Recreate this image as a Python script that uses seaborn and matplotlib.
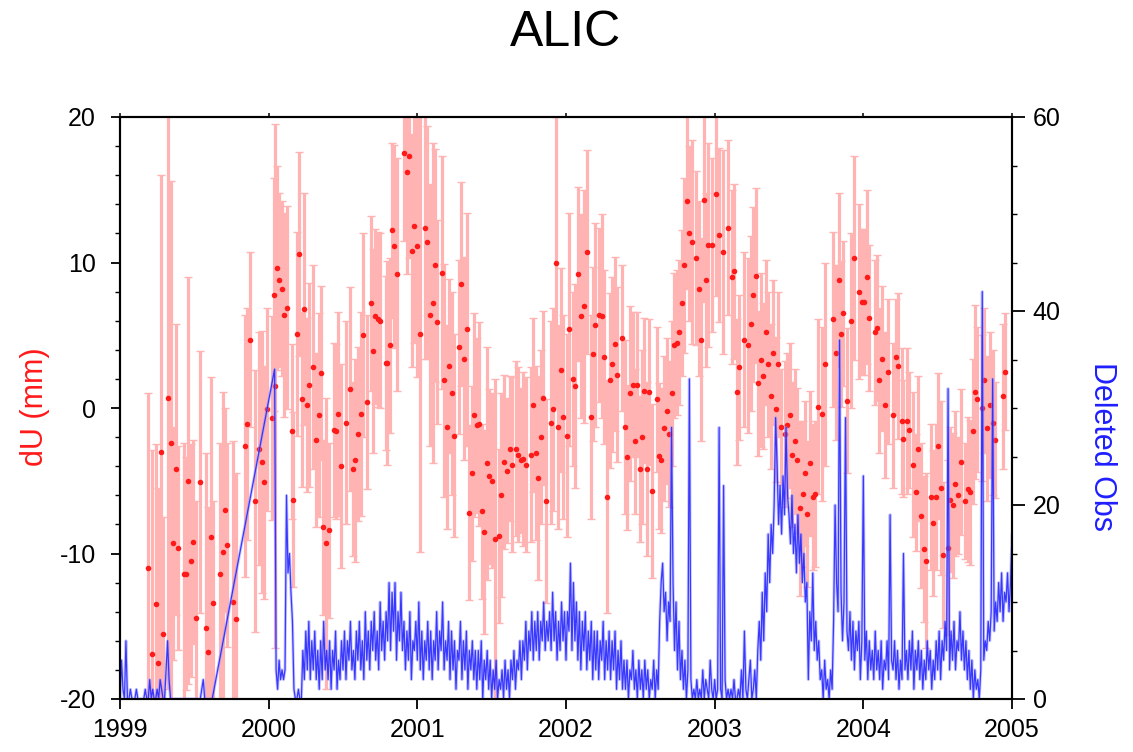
import numpy as np
import pandas as pd
import matplotlib
matplotlib.use("Agg")
import matplotlib.pyplot as plt
import seaborn as sns
from matplotlib.ticker import MultipleLocator

# ---------------- data ----------------
title = "ALIC"
left_label = "dU (mm)"
right_label = "Deleted Obs"
year_ticks = [1999, 2000, 2001, 2002, 2003, 2004, 2005]
year_labels = ["1999", "2000", "2001", "2002", "2003", "2004", "2005"]

# red series: epoch (decimal year), dU (mm), 1-sigma error (mm)
red_t = [
    1999.191, 1999.213, 1999.242, 1999.258, 1999.275, 1999.292, 1999.325, 1999.341, 1999.359, 1999.377,
    1999.393, 1999.431, 1999.444, 1999.460, 1999.476, 1999.494, 1999.509, 1999.538, 1999.576, 1999.590,
    1999.610, 1999.628, 1999.673, 1999.691, 1999.707, 1999.722, 1999.763, 1999.778, 1999.841, 1999.857,
    1999.874, 1999.908, 1999.935, 1999.958, 1999.971, 1999.987,
    2000.020, 2000.036, 2000.044, 2000.054, 2000.072, 2000.088, 2000.103, 2000.121, 2000.155, 2000.166,
    2000.188, 2000.204, 2000.222, 2000.237, 2000.255, 2000.270, 2000.300, 2000.316, 2000.338, 2000.352,
    2000.367, 2000.385, 2000.405, 2000.439, 2000.452, 2000.468, 2000.484, 2000.520, 2000.550, 2000.565,
    2000.583, 2000.603, 2000.620, 2000.636, 2000.663, 2000.685, 2000.700, 2000.716, 2000.735, 2000.750,
    2000.786, 2000.797, 2000.813, 2000.830, 2000.846, 2000.862, 2000.913, 2000.929, 2000.947, 2000.962,
    2000.980, 2000.995,
    2001.018, 2001.052, 2001.068, 2001.086, 2001.103, 2001.119, 2001.135, 2001.168, 2001.182, 2001.202,
    2001.216, 2001.231, 2001.249, 2001.283, 2001.294, 2001.314, 2001.332, 2001.350, 2001.366, 2001.382,
    2001.399, 2001.417, 2001.433, 2001.449, 2001.467, 2001.485, 2001.500, 2001.520, 2001.550, 2001.563,
    2001.583, 2001.601, 2001.620, 2001.635, 2001.664, 2001.680, 2001.698, 2001.713, 2001.731, 2001.763,
    2001.780, 2001.800, 2001.815, 2001.830, 2001.848, 2001.866, 2001.897, 2001.915, 2001.933, 2001.949,
    2001.965, 2001.983,
    2002.005, 2002.023, 2002.045, 2002.061, 2002.083, 2002.099, 2002.118, 2002.139, 2002.166, 2002.180,
    2002.198, 2002.220, 2002.245, 2002.258, 2002.278, 2002.296, 2002.312, 2002.330, 2002.346, 2002.377,
    2002.395, 2002.413, 2002.431, 2002.449, 2002.465, 2002.480, 2002.498, 2002.510, 2002.527, 2002.543,
    2002.561, 2002.579, 2002.610, 2002.626, 2002.642, 2002.660, 2002.677, 2002.695, 2002.713, 2002.727,
    2002.745, 2002.763, 2002.778, 2002.794, 2002.812, 2002.828, 2002.845, 2002.875, 2002.893, 2002.908,
    2002.929, 2002.944, 2002.958, 2002.983,
    2003.009, 2003.031, 2003.053, 2003.091, 2003.114, 2003.128, 2003.147, 2003.165, 2003.197, 2003.226,
    2003.242, 2003.260, 2003.275, 2003.293, 2003.309, 2003.322, 2003.345, 2003.360, 2003.376, 2003.390,
    2003.412, 2003.428, 2003.443, 2003.473, 2003.488, 2003.506, 2003.522, 2003.540, 2003.555, 2003.573,
    2003.591, 2003.607, 2003.622, 2003.640, 2003.663, 2003.676, 2003.697, 2003.719, 2003.741, 2003.798,
    2003.815, 2003.838, 2003.852, 2003.865, 2003.887, 2003.914, 2003.936, 2003.972, 2003.988,
    2004.004, 2004.022, 2004.040, 2004.078, 2004.089, 2004.107, 2004.123, 2004.145, 2004.168, 2004.201,
    2004.219, 2004.235, 2004.257, 2004.268, 2004.291, 2004.309, 2004.336, 2004.354, 2004.370, 2004.385,
    2004.408, 2004.421, 2004.452, 2004.466, 2004.488, 2004.504, 2004.520, 2004.538, 2004.571, 2004.582,
    2004.600, 2004.618, 2004.634, 2004.654, 2004.683, 2004.706, 2004.717, 2004.735, 2004.751, 2004.766,
    2004.795, 2004.811, 2004.829, 2004.851, 2004.870, 2004.885, 2004.937, 2004.952,
]
red_du = [
    -11.0, -16.9, -13.5, -17.5, -3.0, -15.5, 0.7, -2.4, -9.3, -4.2,
    -9.6, -11.4, -11.4, -5.0, -10.5, -9.2, -14.4, -5.1, -15.1, -16.8,
    -8.9, -13.4, -11.4, -9.9, -7.0, -9.4, -13.3, -14.5, -2.6, -1.1,
    4.7, -6.4, -2.8, -3.7, -5.1, -0.1,
    -0.7, 7.8, 1.5, 9.6, 8.8, 8.2, 6.4, 6.9, -1.6, -6.3,
    5.1, 10.6, 0.6, 6.8, 0.2, 1.6, 2.8, -2.2, -0.5, 2.4,
    -8.2, -9.3, -8.4, -1.5, -1.6, -0.4, -4.0, -1.0, 1.3, -4.2,
    -3.6, -1.8, -0.4, 5.0, 0.4, 7.2, 3.9, 6.3, 6.1, 6.0,
    3.1, 3.1, 4.3, 12.2, 11.1, 9.2, 17.5, 16.2, 17.3, 10.8,
    12.5, 11.1,
    5.1, 12.4, 11.4, 6.4, 7.2, 9.8, 5.9, 9.3, 1.9, -1.3,
    2.9, 1.0, -1.9, 4.2, 8.5, 3.4, 5.4, -7.2, -4.5, -0.5,
    -1.2, -1.1, -7.1, -8.5, -3.8, -4.7, -5.0, -9.0, -8.8, -6.0,
    -3.7, -4.3, -2.8, -3.9, -2.8, -3.2, -3.6, -3.5, -3.9, -3.2,
    0.2, -3.1, -4.8, -2.0, 0.7, -6.4, -1.0, -0.1, 10.0, -1.3,
    2.6, -0.6,
    -1.9, 5.4, 2.0, 1.5, 9.2, 6.3, 7.0, 10.7, -0.6, 3.7,
    5.7, 6.4, 6.3, 3.5, -6.1, 1.9, 3.0, 4.4, 2.3, 4.8,
    -1.3, -3.4, 1.0, 1.6, -2.3, 1.6, -4.2, -2.0, 1.2, -4.2,
    1.1, -5.7, 0.6, -3.3, -3.6, -1.4, -0.2, -1.8, 1.0, 4.3,
    4.5, 5.2, 7.2, 9.8, 14.2, 12.0, 11.4, 10.3, 8.2, 4.7,
    14.3, 8.8, 11.2, 11.2,
    14.7, 11.9, 10.7, 12.4, 9.0, 9.4, 1.1, 2.8, 4.7, 4.3,
    5.8, 7.8, 9.1, 1.7, 3.3, 2.2, 5.2, 3.0, 0.8, 3.8,
    -0.1, 3.0, -1.3, -1.8, -1.2, -0.5, -3.2, -2.3, -3.6, -6.9,
    -5.9, -4.5, -7.3, -3.8, -6.1, -5.9, 0.1, -0.4, 3.0, 6.1,
    3.8, 8.8, 5.1, 6.5, 0.5, 6.0, 10.3, 8.0, 7.3,
    7.3, 9.0, 6.2, 5.2, 5.5, 1.9, 3.4, 0.2, 2.5, -0.5,
    3.5, 2.9, -0.9, -2.1, -0.9, -1.5, -3.9, -5.8, -2.8, -7.4,
    -9.7, -10.5, -6.1, -7.9, -6.1, -2.6, -5.5, -10.1, -9.6, -6.3,
    -6.7, -5.2, -6.0, -3.7, -6.4, -5.6, -5.8, -1.6, 1.1, 0.6,
    0.0, 1.9, -1.4, 0.2, -1.0, -2.2, 0.8, 2.5,
]
red_err = [
    12, 14, 11, 12, 19, 8, 20, 18, 8, 10,
    7, 9, 8, 14, 8, 7, 8, 9, 12, 10,
    11, 7, 9, 11, 7, 7, 11, 10, 9, 8,
    6, 9, 8, 9, 8, 7,
    7, 8, 18, 7, 6, 6, 7, 7, 6, 6,
    7, 7, 6, 8, 6, 7, 7, 6, 7, 6,
    6, 10, 6, 6, 6, 7, 7, 7, 7, 6,
    7, 6, 7, 7, 6, 6, 7, 6, 6, 6,
    6, 7, 6, 6, 7, 8, 6, 7, 7, 8,
    8, 9,
    15, 9, 8, 9, 11, 8, 7, 8, 8, 7,
    6, 7, 7, 6, 7, 7, 8, 6, 6, 7,
    6, 7, 6, 7, 8, 6, 6, 11, 6, 7,
    6, 5, 5, 6, 6, 6, 5, 6, 6, 6,
    6, 6, 7, 6, 6, 7, 7, 7, 10, 7,
    7, 7,
    7, 8, 6, 7, 6, 7, 8, 7, 7, 6,
    7, 6, 7, 6, 8, 6, 6, 6, 6, 5,
    6, 5, 6, 5, 5, 5, 5, 6, 5, 6,
    5, 6, 5, 5, 5, 5, 5, 5, 5, 5,
    5, 5, 5, 6, 6, 6, 7, 6, 6, 7,
    7, 6, 7, 6,
    7, 6, 7, 6, 6, 6, 5, 5, 6, 6,
    6, 6, 6, 5, 6, 5, 5, 5, 5, 5,
    5, 5, 4, 5, 5, 5, 5, 5, 5, 6,
    5, 5, 5, 5, 5, 5, 6, 6, 7, 6,
    6, 6, 5, 5, 5, 6, 7, 6, 5,
    5, 6, 5, 5, 5, 5, 5, 5, 5, 5,
    4, 5, 5, 4, 5, 4, 5, 4, 5, 5,
    5, 6, 5, 5, 5, 5, 6, 5, 6, 5,
    5, 5, 4, 5, 4, 5, 5, 5, 6, 5,
    5, 5, 5, 5, 5, 4, 5, 4,
]

# blue series: deleted observations, sampled every 0.01 yr, two runs
blue_step = 0.01
blue_start_1 = 1999.00
blue_obs_1 = [
    0, 4, 1, 0, 6, 0, 0, 1, 0, 0,
    0, 1, 0, 0, 0, 0, 0, 1, 0, 0,
    2, 0, 1, 0, 0, 1, 0, 2, 1, 0,
    0, 3, 6, 2, 0, 0, 0, 0, 0, 0,
    0, 0, 0, 0, 0, 0, 0, 0, 0, 0,
    0, 0, 0, 0, 0, 1, 2, 0, 0, 0,
    0, 0, 0,
]
blue_start_2 = 2000.04
blue_obs_2 = [
    34, 3, 1, 4, 2, 3,
    2, 3, 21, 13, 15, 11, 8, 1, 0, 0,
    1, 0, 0, 5, 2, 7, 3, 8, 2, 6,
    3, 7, 2, 5, 1, 6, 2, 8, 3, 5,
    2, 6, 1, 5, 3, 7, 1, 4, 2, 6,
    3, 7, 2, 6, 4, 8, 3, 5, 2, 7,
    4, 8, 3, 6, 2, 9, 4, 7, 3, 8,
    5, 9, 4, 7, 3, 10, 5, 8, 4, 9,
    6, 12, 5, 11, 7, 12, 4, 9, 6, 11,
    5, 8, 3, 7, 4, 9, 2, 6, 5, 8,
    4, 10, 3, 7, 2, 6, 4, 8, 3, 7,
    2, 6, 4, 9, 3, 7, 5, 10, 3, 6,
    4, 8, 2, 7, 3, 6, 1, 5, 4, 8,
    2, 6, 3, 7, 1, 5, 3, 6, 2, 5,
    1, 5, 2, 6, 0, 4, 2, 5, 1, 4,
    0, 3, 1, 4, 0, 2, 1, 3, 0, 4,
    1, 3, 0, 4, 2, 5, 1, 4, 3, 6,
    2, 6, 4, 8, 3, 7, 5, 9, 4, 8,
    5, 9, 4, 8, 6, 10, 5, 8, 6, 9,
    5, 11, 6, 9, 4, 8, 5, 10, 6, 9,
    4, 9, 7, 14, 5, 12, 6, 10, 4, 9,
    3, 8, 5, 9, 3, 7, 4, 8, 2, 7,
    3, 7, 2, 6, 4, 8, 2, 6, 3, 7,
    2, 6, 3, 7, 1, 5, 2, 6, 1, 4,
    1, 4, 0, 3, 2, 5, 1, 3, 0, 4,
    1, 3, 0, 4, 1, 3, 0, 2, 1, 4,
    0, 3, 1, 8, 12, 14, 9, 11, 6, 10,
    8, 28, 12, 5, 10, 3, 8, 2, 5, 1,
    4, 0, 3, 33, 2, 0, 1, 0, 2, 0,
    1, 0, 3, 0, 2, 1, 0, 4, 1, 0,
    2, 0, 1, 28, 1, 0, 22, 2, 0, 1,
    0, 1, 0, 2, 0, 0, 1, 0, 3, 0,
    7, 1, 0, 2, 4, 0, 1, 3, 0, 5,
    8, 4, 11, 6, 13, 9, 17, 12, 18, 15,
    20, 29, 24, 18, 22, 17, 23, 19, 28, 21,
    19, 16, 21, 15, 18, 13, 19, 14, 17, 12,
    15, 10, 12, 2, 9, 6, 13, 5, 8, 4,
    6, 2, 3, 0, 4, 1, 2, 0, 3, 1,
    8, 20, 12, 9, 37, 11, 6, 10, 29, 7,
    5, 9, 4, 8, 3, 7, 5, 8, 2, 6,
    23, 4, 7, 2, 6, 3, 5, 2, 7, 3,
    5, 2, 6, 1, 4, 3, 6, 2, 19, 4,
    3, 6, 2, 5, 1, 4, 2, 15, 3, 5,
    2, 6, 3, 7, 1, 5, 3, 6, 2, 5,
    1, 4, 2, 6, 3, 5, 1, 4, 2, 6,
    3, 7, 2, 6, 4, 8, 5, 32, 3, 7,
    4, 8, 3, 6, 5, 9, 4, 7, 3, 6,
    2, 5, 1, 4, 0, 3, 1, 2, 0, 3,
    42, 4, 6, 5, 8, 6, 9, 33, 7, 10,
    8, 12, 9, 13, 8, 11, 10, 13, 9, 12, 17,
]

# ---------------- style ----------------
sns.set_theme(style="ticks")
plt.rcParams["font.family"] = ["Liberation Sans", "DejaVu Sans"]
plt.rcParams["axes.unicode_minus"] = False
plt.rcParams["text.color"] = "black"

RED = "#ff1a1a"
PINK = "#ffb3b3"
BLUE = "#1f1fff"
LIGHT_BLUE = "#9595ff"

red = pd.DataFrame({"t": red_t, "dU": red_du, "err": red_err})
blue = pd.DataFrame({
    "t": np.concatenate([blue_start_1 + blue_step * np.arange(len(blue_obs_1)),
                         blue_start_2 + blue_step * np.arange(len(blue_obs_2))]),
    "n": np.concatenate([blue_obs_1, blue_obs_2]).astype(float),
})

fig = plt.figure(figsize=(11.33, 7.52), dpi=100)
ax = fig.add_axes([120 / 1133, 53 / 752, 892 / 1133, 582 / 752])

ax.errorbar(red["t"], red["dU"], yerr=red["err"], fmt="none", ecolor=PINK,
            elinewidth=2.3, capsize=3, capthick=1.0, zorder=2)
sns.scatterplot(data=red, x="t", y="dU", ax=ax, color=RED, s=16, linewidth=0,
                zorder=3, legend=False)

ax2 = ax.twinx()
sns.lineplot(data=blue, x="t", y="n", ax=ax2, color=LIGHT_BLUE, linewidth=2.2,
             alpha=0.5, estimator=None, sort=False, legend=False)
sns.lineplot(data=blue, x="t", y="n", ax=ax2, color=BLUE, linewidth=0.9,
             alpha=0.85, estimator=None, sort=False, legend=False)

ax.set_xlim(1999, 2005)
ax.set_ylim(-20, 20)
ax2.set_ylim(0, 60)
ax.set_xticks(year_ticks)
ax.set_xticklabels(year_labels)
ax.yaxis.set_major_locator(MultipleLocator(10))
ax.yaxis.set_minor_locator(MultipleLocator(2))
ax2.yaxis.set_major_locator(MultipleLocator(20))
ax2.yaxis.set_minor_locator(MultipleLocator(5))
for a in (ax, ax2):
    a.set_xlabel("")
    a.set_ylabel("")
    for s in a.spines.values():
        s.set_visible(True)
        s.set_linewidth(1.5)
        s.set_color("black")

ax.tick_params(axis="x", which="major", direction="out", length=7, width=1.3,
               labelsize=18, pad=7, colors="black")
ax.tick_params(axis="y", which="major", direction="out", length=6.5, width=1.3,
               labelsize=18, pad=11, colors="black")
ax.tick_params(axis="y", which="minor", direction="out", length=3.5, width=1.0, colors="black")
ax2.tick_params(axis="y", which="major", direction="out", length=9, width=1.3,
                labelsize=18, pad=6, colors="black")
ax2.tick_params(axis="y", which="minor", direction="out", length=3.5, width=1.0, colors="black")

top = ax.secondary_xaxis("top")
top.set_xticks(year_ticks)
top.tick_params(axis="x", direction="out", length=3, width=1.3, labeltop=False)

fig.text(35 / 1133, 1 - 407 / 752, left_label, rotation=90, color=RED,
         fontsize=22, ha="center", va="center")
fig.text(1102 / 1133, 1 - 447 / 752, right_label, rotation=270, color=BLUE,
         fontsize=22, ha="center", va="center")
fig.text(566 / 1133, 1 - 33 / 752, title, fontsize=36, color="black",
         ha="center", va="center")

fig.savefig("out.png", dpi=100)
